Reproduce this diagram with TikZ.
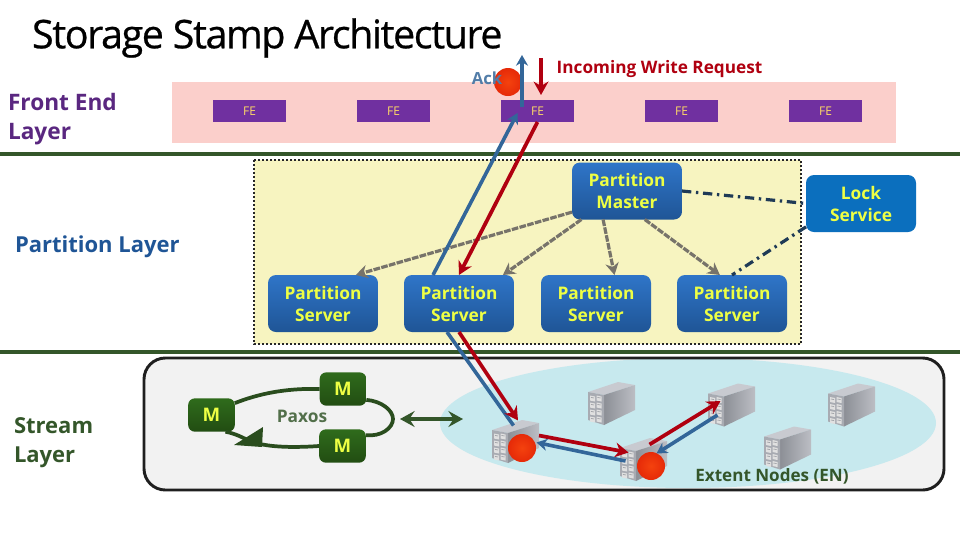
\documentclass[tikz,border=0pt]{standalone}
\usepackage{fontspec}
\setmainfont{Open Sans}
\newfontfamily\titlef{Open Sans}[LetterSpace=-3.6,FakeBold=0.6]
\usetikzlibrary{arrows.meta,calc}
\definecolor{darkgreen}{HTML}{34562A}
\definecolor{redl}{HTML}{B00010}
\definecolor{bluel}{HTML}{336699}
\definecolor{grayl}{HTML}{77736A}
\definecolor{lockb}{HTML}{0B6FBE}
\definecolor{HTMLfe}{HTML}{7030A0}
\definecolor{HTMLfet}{HTML}{FFD966}
\definecolor{HTMLyel}{HTML}{EEFF44}
\definecolor{HTMLbt}{HTML}{2F75C8}
\definecolor{HTMLbb}{HTML}{1F5596}
\definecolor{HTMLgt}{HTML}{2F6B1C}
\definecolor{HTMLgb}{HTML}{224D12}
\definecolor{HTMLlk}{HTML}{1F3A56}
\definecolor{HTMLrg}{HTML}{2A4D1E}
\definecolor{HTMLbi}{HTML}{F4420E}
\definecolor{HTMLbo}{HTML}{E62A08}
\definecolor{HTMLst}{HTML}{C8CAD0}
\definecolor{HTMLsd}{HTML}{8C8F96}
\definecolor{HTMLsl}{HTML}{BCBEC4}
\definecolor{HTMLsf}{HTML}{A8ABB2}
\definecolor{bandc}{HTML}{FBCFCB}
\definecolor{areac}{HTML}{F7F4C0}
\definecolor{enc}{HTML}{C7E9EE}
\tikzset{
  x=0.75pt,y=-0.75pt,
  every node/.style={inner sep=0pt,outer sep=0pt,font=\bfseries\fontsize{13}{16.5}\selectfont},
  fe/.style={fill=HTMLfe,minimum width=54.75pt,minimum height=16.5pt,text=HTMLfet,font=\fontsize{9}{11}\selectfont},
  pbox/.style={rounded corners=6pt,minimum width=82.5pt,minimum height=42.75pt,align=center,text=HTMLyel,top color=HTMLbt,bottom color=HTMLbb,draw=none},
  lockbox/.style={pbox,top color=lockb,bottom color=lockb},
  mbox/.style={rounded corners=5pt,minimum width=35pt,minimum height=25pt,text=HTMLyel,top color=HTMLgt,bottom color=HTMLgb,font=\bfseries\fontsize{14}{16}\selectfont},
  layer/.style={align=left,anchor=west,font=\bfseries\fontsize{17}{22}\selectfont},
  rule/.style={darkgreen,line width=3pt},
  gray arrow/.style={grayl,line width=2.4pt,dash pattern=on 5pt off 1pt,-{Stealth[length=9pt,width=10pt]}},
  lock link/.style={HTMLlk,line width=2.4pt,dash pattern=on 7pt off 3.5pt on 1.8pt off 3.5pt},
  red arrow/.style={redl,line width=2.8pt,-{Stealth[length=10pt,width=11pt]}},
  blue arrow/.style={bluel,line width=2.7pt,-{Stealth[length=8pt,width=9pt]}},
  ring/.style={HTMLrg,line width=2.8pt},
  ball/.style={circle,minimum size=21pt,inner color=HTMLbi,outer color=HTMLbo},
  server/.style={minimum width=35.25pt,minimum height=32.25pt},
  pics/srv/.style={code={
    \fill[HTMLst] (-23.5,-11.5) -- (6.5,-21.5) -- (23.5,-18.5) -- (-7.5,-8.5) -- cycle;
    \shade[left color=HTMLsd,right color=HTMLsl] (-7.5,-8.5) -- (23.5,-18.5) -- (23.5,6.5) -- (-7.5,21.5) -- cycle;
    \fill[HTMLsf] (-23.5,-11.5) -- (-7.5,-8.5) -- (-7.5,21.5) -- (-23.5,16.5) -- cycle;
    \foreach \a in {-21.5,-15}{\foreach \b in {-7,0,7,14}{
      \fill[white!88!black] (\a,\b-1) -- (\a+5,\b) -- (\a+5,\b+5) -- (\a,\b+4) -- cycle;
      \draw[HTMLsd,line width=0.4pt] (\a+1,\b+1) -- (\a+4,\b+1.5);
    }}
  }}
}
\begin{document}
\begin{tikzpicture}
\useasboundingbox (0,0) rectangle (960,540);
\fill[white] (0,0) rectangle (960,540);

% title and layer labels
\node[anchor=west,font=\titlef\fontsize{29.6}{32}\selectfont] (title) at (32,38) {Storage Stamp Architecture};
\node[layer,text=HTMLfe!80!black] (lfe) at (8,119) {Front End\\Layer};
\node[layer,text=HTMLbb,font=\bfseries\fontsize{16.5}{22}\selectfont] (lpl) at (15,247) {Partition Layer};
\node[layer,text=darkgreen,font=\bfseries\fontsize{16.5}{22}\selectfont] (lsl) at (14,443) {Stream\\Layer};

% front end band and rules
\fill[bandc] (172,82) rectangle (896,143);
\draw[rule] (0,154) -- (960,154);
\draw[rule] (0,352) -- (960,352);

% partition area
\draw[fill=areac,draw=black!85,line width=2pt,dash pattern=on 1.8pt off 1.2pt] (254,160) rectangle (801,344);

% stream area
\begin{scope}
\fill[black!5,rounded corners=16pt] (144,358) rectangle (944,490);
\clip[rounded corners=16pt] (144,358) rectangle (944,490);
\fill[enc] (688,423) ellipse [x radius=248,y radius=65];
\end{scope}
\draw[draw=black!88,line width=2.2pt,rounded corners=16pt] (144,358) rectangle (944,490);
\node (en) at (772,476) [text=darkgreen,font=\bfseries\fontsize{12.8}{15}\selectfont] {Extent Nodes (EN)};

% FE nodes
\node[fe] (fe1) at (249.5,111) {FE};
\node[fe] (fe2) at (393.5,111) {FE};
\node[fe] (fe3) at (537.5,111) {FE};
\node[fe] (fe4) at (681.5,111) {FE};
\node[fe] (fe5) at (825.5,111) {FE};

% partition nodes
\node[pbox] (pm) at (627,191) {Partition\\Master};
\node[lockbox] (lock) at (861,203.5) {Lock\\Service};
\node[pbox] (ps1) at (323,303.5) {Partition\\Server};
\node[pbox] (ps2) at (459,303.5) {Partition\\Server};
\node[pbox] (ps3) at (596,303.5) {Partition\\Server};
\node[pbox] (ps4) at (732,303.5) {Partition\\Server};

% master links
\draw[gray arrow] (pm.201) -- (ps1.41);
\draw[gray arrow] (pm.212) -- (ps2.33);
\draw[gray arrow] (pm.230) -- (ps3.57);
\draw[gray arrow] (pm.302) -- (ps4.113);
\draw[lock link] (pm.0) -- (lock.180);
\draw[lock link] (lock.203) -- (ps4.north);

% paxos
\node[mbox] (m1) at (211.5,415) {M};
\node[mbox] (m2) at (343,389) {M};
\node[mbox] (m3) at (342.5,446) {M};
\node (paxos) at (302,416) [text=darkgreen!85!white,font=\bfseries\fontsize{13}{15}\selectfont] {Paxos};
\draw[ring] (m1.27) .. controls (258,394) and (285,388) .. (m2.west);
\draw[ring] (m2.-25) .. controls (381,401) and (393,410) .. (393,419) .. controls (393,428) and (381,437) .. (m3.25);
\draw[ring] (m3.west) .. controls (290,448) and (265,447) .. (250,441) .. controls (243,438) and (237,434) .. (m1.-50);
\coordinate (tiptri) at (234,445);
\fill[HTMLrg] (tiptri) -- (263,427) -- (262,447) -- cycle;
\coordinate (pxr) at (400,419);
\coordinate (enl) at (463,419);
\draw[darkgreen,line width=2.8pt,{Stealth[length=11pt,width=12pt,inset=4pt]}-{Stealth[length=11pt,width=12pt,inset=4pt]}] (pxr) -- (enl);

% extent node servers
\node[server] (sa) at (515.5,441.5) {};
\node[server] (sb) at (643.5,459.5) {};
\node[server] (sc) at (611.5,403.5) {};
\node[server] (sd) at (731.5,405) {};
\node[server] (se) at (851.5,405) {};
\node[server] (sf) at (787.5,448) {};
\foreach \n in {sa,sb,sc,sd,se,sf}{\pic at (\n.center) {srv};}

% write path
\node[ball] (b0) at (508,82) {};
\node[ball] (b1) at (522,448) {};
\node[ball] (b2) at (651,466) {};
\node (ack) at (487,78) [text=bluel!85!white,font=\bfseries\fontsize{12.5}{15}\selectfont] {Ack};
\node (inc) at (659.5,69) [text=redl,font=\bfseries\fontsize{12.9}{15}\selectfont] {Incoming Write Request};
\coordinate (ackend) at (522,55);
\coordinate (incstart) at (541,58);
\draw[red arrow] (incstart) -- ([shift={(3.5,-16)}]fe3.center);
\draw[blue arrow] ([shift={(-15.5,-4)}]fe3.center) -- (ackend);
\draw[blue arrow] ([shift={(-26,-28.5)}]ps2.center) -- ([shift={(-20,2)}]fe3.center);
\draw[red arrow] (fe3.south) -- (ps2.north);
\draw[blue arrow,-] ([shift={(-12,28.5)}]ps2.center) -- ([shift={(-2,-16)}]sa.center);
\draw[red arrow] (ps2.south) -- ([shift={(2.5,-21)}]sa.center);
\draw[red arrow] ([shift={(23.5,-6)}]sa.center) -- ([shift={(-15,-7)}]sb.center);
\draw[blue arrow] ([shift={(-18,1.5)}]sb.center) -- ([shift={(21,1)}]sa.center);
\draw[red arrow] ([shift={(6,-15)}]sb.center) -- ([shift={(-11,-4)}]sd.center);
\draw[blue arrow] ([shift={(-14,10)}]sd.center) -- ([shift={(13,-6)}]sb.center);
\end{tikzpicture}
\end{document}
